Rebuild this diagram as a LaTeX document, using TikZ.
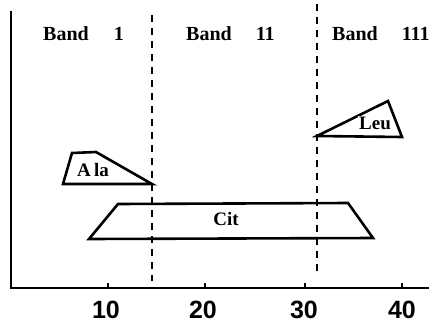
\documentclass[tikz,border=0pt]{standalone}
\usepackage{fontspec}
\setmainfont{Liberation Serif}
\newfontfamily\numfont{Liberation Sans}
\begin{document}
\begin{tikzpicture}[x=1pt,y=-1pt,
  axisline/.style={line width=2pt, line cap=rect},
  tickline/.style={line width=1.5pt},
  divider/.style={line width=1.6pt, dash pattern=on 7pt off 6pt},
  bandshape/.style={line width=2.6pt, line join=miter},
  bandlab/.style={font=\bfseries\fontsize{20}{20}\selectfont, anchor=base west, inner sep=0pt},
  shapelab/.style={font=\bfseries\fontsize{19}{19}\selectfont, inner sep=1pt},
  numlab/.style={font=\numfont\bfseries\fontsize{25}{25}\selectfont, inner sep=0pt}]
\useasboundingbox (0,0) rectangle (440,325);
% axes
\coordinate (ytop) at (11,12);
\coordinate (orig) at (11,288);
\coordinate (xend) at (428,288);
\draw[axisline] (ytop) -- (orig) -- (xend);
% ticks and labels
\foreach \px/\lx/\t in {108/106/10, 205/203/20, 305/304/30, 402/402/40}{
  \coordinate (tb\t) at (\px,288);
  \coordinate (tt\t) at (\px,283);
  \draw[tickline] (tb\t) -- (tt\t);
  \node[numlab] (n\t) at (\lx,310) {\t};
}
% dividers
\coordinate (d1a) at (152,15);
\coordinate (d1b) at (152,281);
\coordinate (d2a) at (317,4);
\coordinate (d2b) at (317,276);
\draw[divider] (d1a) -- (d1b);
\draw[divider] (d2a) -- (d2b);
% band labels
\node[bandlab] (b1) at (43,40) {Band\hspace{25pt}1};
\node[bandlab] (b2) at (186,40) {Band\hspace{24pt}11};
\node[bandlab] (b3) at (332,40) {Band\hspace{24pt}111};
% Cit
\coordinate (c1) at (89,239);
\coordinate (c2) at (118,204);
\coordinate (c3) at (348,203);
\coordinate (c4) at (373,238);
\draw[bandshape] (c1) -- (c2) -- (c3) -- (c4) -- cycle;
\node[shapelab] (cit) at (226,219) {Cit};
% Ala
\coordinate (a1) at (63,184);
\coordinate (a2) at (72,153);
\coordinate (a3) at (96,152);
\coordinate (a4) at (152,184);
\draw[bandshape] (a1) -- (a2) -- (a3) -- (a4) -- cycle;
\node[shapelab] (ala) at (93,170) {A\,la};
% Leu
\coordinate (l1) at (317,136);
\coordinate (l2) at (388,101);
\coordinate (l3) at (402,137);
\draw[bandshape] (l1) -- (l2) -- (l3) -- cycle;
\node[shapelab, fill=white] (leu) at (375,123) {Leu};
\end{tikzpicture}
\end{document}
